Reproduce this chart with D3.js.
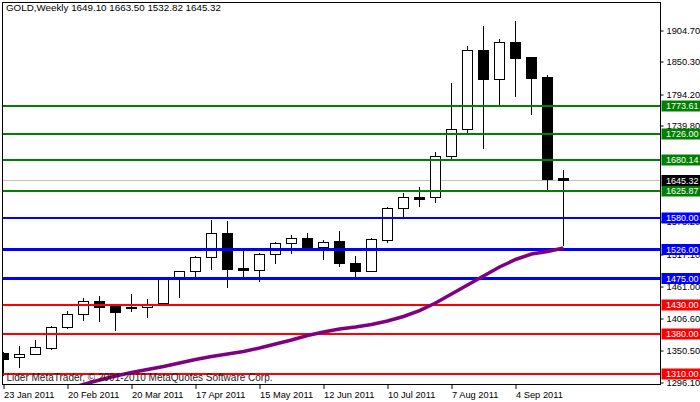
<!DOCTYPE html>
<html>
<head>
<meta charset="utf-8">
<script src="https://cdn.jsdelivr.net/npm/d3@7"></script>
<style>
  body { margin: 0; background: #fff; }
  svg { display: block; font-family: 'Liberation Sans', Arial, sans-serif; }
</style>
</head>
<body>
<script>
'use strict'

// weekly bars
const weeks = ['2011-01-23','2011-01-30','2011-02-06','2011-02-13','2011-02-20','2011-02-27',
  '2011-03-06','2011-03-13','2011-03-20','2011-03-27','2011-04-03','2011-04-10','2011-04-17',
  '2011-04-24','2011-05-01','2011-05-08','2011-05-15','2011-05-22','2011-05-29','2011-06-05',
  '2011-06-12','2011-06-19','2011-06-26','2011-07-03','2011-07-10','2011-07-17','2011-07-24',
  '2011-07-31','2011-08-07','2011-08-14','2011-08-21','2011-08-28','2011-09-04','2011-09-11',
  '2011-09-18','2011-09-25'];
const opens  = [1346.3,1339.9,1344.6,1356.0,1391.2,1413.7,1436.1,1427.5,1425.4,1425.8,1432.7,1475.8,
  1488.5,1512.2,1553.6,1493.2,1490.8,1517.3,1536.4,1545.0,1530.5,1539.8,1502.3,1489.0,1541.5,1596.8,
  1615.8,1615.8,1686.7,1733.4,1869.9,1820.8,1883.7,1858.3,1823.7,1649.10];
const highs  = [1348.5,1358.4,1369.3,1393.4,1419.4,1441.3,1445.3,1429.2,1448.7,1440.1,1474.6,1488.8,
  1514.0,1576.6,1574.4,1523.6,1519.1,1538.6,1551.2,1554.2,1542.0,1557.6,1514.4,1545.5,1599.6,1623.3,
  1633.6,1693.6,1813.4,1877.3,1911.9,1889.4,1920.5,1858.3,1826.7,1663.50];
const lows   = [1309.0,1323.1,1344.6,1354.2,1390.5,1403.8,1402.6,1386.5,1419.9,1409.5,1429.7,1444.1,
  1477.3,1492.5,1461.4,1477.6,1471.7,1502.8,1519.1,1527.7,1509.7,1497.6,1477.6,1488.5,1539.1,1581.3,
  1601.3,1608.2,1682.0,1726.4,1701.6,1774.1,1790.9,1760.3,1627.2,1532.82];
const closes = [1337.0,1344.6,1356.6,1391.2,1413.7,1436.1,1426.8,1418.2,1426.0,1431.0,1474.1,1488.5,
  1512.7,1553.6,1492.5,1490.8,1517.3,1536.4,1545.0,1530.5,1538.1,1501.8,1489.0,1543.3,1596.8,1615.8,
  1613.4,1686.7,1733.4,1869.9,1820.8,1883.7,1857.1,1822.5,1647.9,1645.32];

// moving average, from the 5th bar on (earlier values are below the window)
const maStart = 4;
const maValues = [1285.0,1292.4,1300.1,1307.1,1313.1,1318.3,1323.5,1329.5,1335.6,1340.7,1345.1,
  1349.4,1355.4,1362.4,1369.3,1377.0,1383.1,1388.3,1391.7,1396.0,1402.1,1409.9,1420.2,1433.2,
  1448.7,1464.3,1479.8,1495.4,1508.4,1517.9,1522.2,1528.2];

// horizontal levels
const greenLevels = [1773.61, 1726.00, 1680.14, 1625.87];
const blueLevels = [1580.00, 1526.00, 1475.00];
const redLevels = [1430.00, 1380.00, 1310.00];

// scale ticks (the ones under the 1680.14 / 1625.87 tags are not visible)
const priceTicks = [1904.70,1850.30,1794.20,1739.80,1573.20,1517.10,1461.00,1406.60,1350.50,1296.10];
const dateTicks = ['2011-01-23','2011-02-20','2011-03-20','2011-04-17','2011-05-15','2011-06-12','2011-07-10','2011-08-07','2011-09-04'];
const dateLabels = ['23 Jan 2011','20 Feb 2011','20 Mar 2011','17 Apr 2011','15 May 2011','12 Jun 2011','10 Jul 2011','7 Aug 2011','4 Sep 2011'];

const W = 700, H = 402;
const frame = {left: 2.5, top: 2.5, right: 660.5, bottom: 384.5};

const parse = d3.utcParse('%Y-%m-%d');
const candles = weeks.map((w, i) => ({date: parse(w), o: opens[i], h: highs[i], l: lows[i], c: closes[i]}));

const x = d3.scaleUtc()
  .domain([candles[0].date, candles[candles.length - 1].date])
  .range([3.5, 563.5]);
const y = d3.scaleLinear()
  .domain([1296.10, 1904.70])
  .range([382.33, 30.14]);

const snap = (v, w) => (w % 2 ? Math.round(v - 0.5) + 0.5 : Math.round(v));

const svg = d3.select('body').append('svg')
  .attr('width', W)
  .attr('height', H);

svg.append('defs').append('clipPath').attr('id', 'plot')
  .append('rect')
  .attr('x', frame.left + 0.5).attr('y', frame.top + 0.5)
  .attr('width', frame.right - frame.left - 1).attr('height', frame.bottom - frame.top - 1);

// price axis on the right
const yAxis = svg.append('g')
  .attr('transform', 'translate(' + frame.right + ',0)')
  .call(d3.axisRight(y).tickValues(priceTicks).tickSize(3).tickPadding(3).tickFormat(d3.format('.2f')));
yAxis.select('.domain').remove();
yAxis.selectAll('.tick line').attr('transform', d => 'translate(0,' + (snap(y(d), 1) - y(d)) + ')');
yAxis.selectAll('text').attr('font-size', 9.3).attr('fill', '#000').attr('font-family', null);

// date axis
const xAxis = svg.append('g')
  .attr('transform', 'translate(0,' + frame.bottom + ')')
  .call(d3.axisBottom(x).tickValues(dateTicks.map(parse)).tickSize(4.5).tickPadding(2)
    .tickFormat((d, i) => dateLabels[i]));
xAxis.select('.domain').remove();
xAxis.selectAll('text').attr('text-anchor', 'start').attr('font-size', 9.3).attr('fill', '#000').attr('font-family', null);

const chart = svg.append('g').attr('clip-path', 'url(#plot)');

// bid line
const bidY = snap(y(closes[closes.length - 1]), 1);
chart.append('line')
  .attr('x1', frame.left).attr('x2', frame.right)
  .attr('y1', bidY).attr('y2', bidY)
  .attr('stroke', '#c0c0c0');

// candles
chart.append('g').selectAll('line').data(candles).join('line')
  .attr('x1', d => x(d.date)).attr('x2', d => x(d.date))
  .attr('y1', d => Math.round(y(d.h))).attr('y2', d => Math.round(y(d.l)) + 1)
  .attr('stroke', '#000');

chart.append('g').selectAll('rect').data(candles).join('rect')
  .attr('x', d => x(d.date) - 5)
  .attr('width', 10)
  .attr('y', d => Math.round(y(Math.max(d.o, d.c))) + 0.5)
  .attr('height', d => Math.max(1, Math.round(y(Math.min(d.o, d.c))) - Math.round(y(Math.max(d.o, d.c)))))
  .attr('fill', d => d.c >= d.o ? '#fff' : '#000')
  .attr('stroke', '#000');

// levels
const levels = [].concat(
  greenLevels.map(v => ({v, color: '#008000', w: 2})),
  blueLevels.map((v, i) => ({v, color: '#0000ff', w: i === 0 ? 2 : 3})),
  redLevels.map(v => ({v, color: '#ff0000', w: 2}))
);

chart.append('g').selectAll('line').data(levels).join('line')
  .attr('x1', frame.left).attr('x2', frame.right)
  .attr('y1', d => snap(y(d.v), d.w)).attr('y2', d => snap(y(d.v), d.w))
  .attr('stroke', d => d.color)
  .attr('stroke-width', d => d.w);

// moving average
const maLine = d3.line()
  .x((d, i) => x(candles[maStart + i].date))
  .y(d => y(d));
chart.append('path')
  .attr('d', maLine(maValues))
  .attr('fill', 'none')
  .attr('stroke', '#800080')
  .attr('stroke-width', 3.5);

// copyright
chart.append('text')
  .attr('x', 6.5).attr('y', 381)
  .attr('font-size', 10)
  .attr('fill', '#1a1a1a')
  .text('Lider MetaTrader, \u00a9 2001-2010 MetaQuotes Software Corp.');

// frame
svg.append('rect')
  .attr('x', frame.left).attr('y', frame.top)
  .attr('width', frame.right - frame.left).attr('height', frame.bottom - frame.top)
  .attr('fill', 'none').attr('stroke', '#000');

// level tags on the price scale
const tags = levels.concat([{v: closes[closes.length - 1], color: '#000', w: 1}]);
const tag = svg.append('g').selectAll('g').data(tags).join('g')
  .attr('transform', d => 'translate(' + (frame.right + 1) + ',' + snap(y(d.v), d.w) + ')');
tag.append('rect')
  .attr('x', 0).attr('y', -5.5)
  .attr('width', W - frame.right).attr('height', 11)
  .attr('fill', d => d.color);
tag.append('text')
  .attr('x', 4.5).attr('dy', '0.34em')
  .attr('font-size', 9).attr('fill', '#fff')
  .text(d => d3.format('.2f')(d.v));

// header
const last = candles.length - 1;
svg.append('text')
  .attr('x', 6).attr('y', 11)
  .attr('font-size', 9.8)
  .attr('fill', '#000')
  .text('GOLD,Weekly  ' + [opens[last], highs[last], lows[last], closes[last]].map(d3.format('.2f')).join(' '));
</script>
</body>
</html>
